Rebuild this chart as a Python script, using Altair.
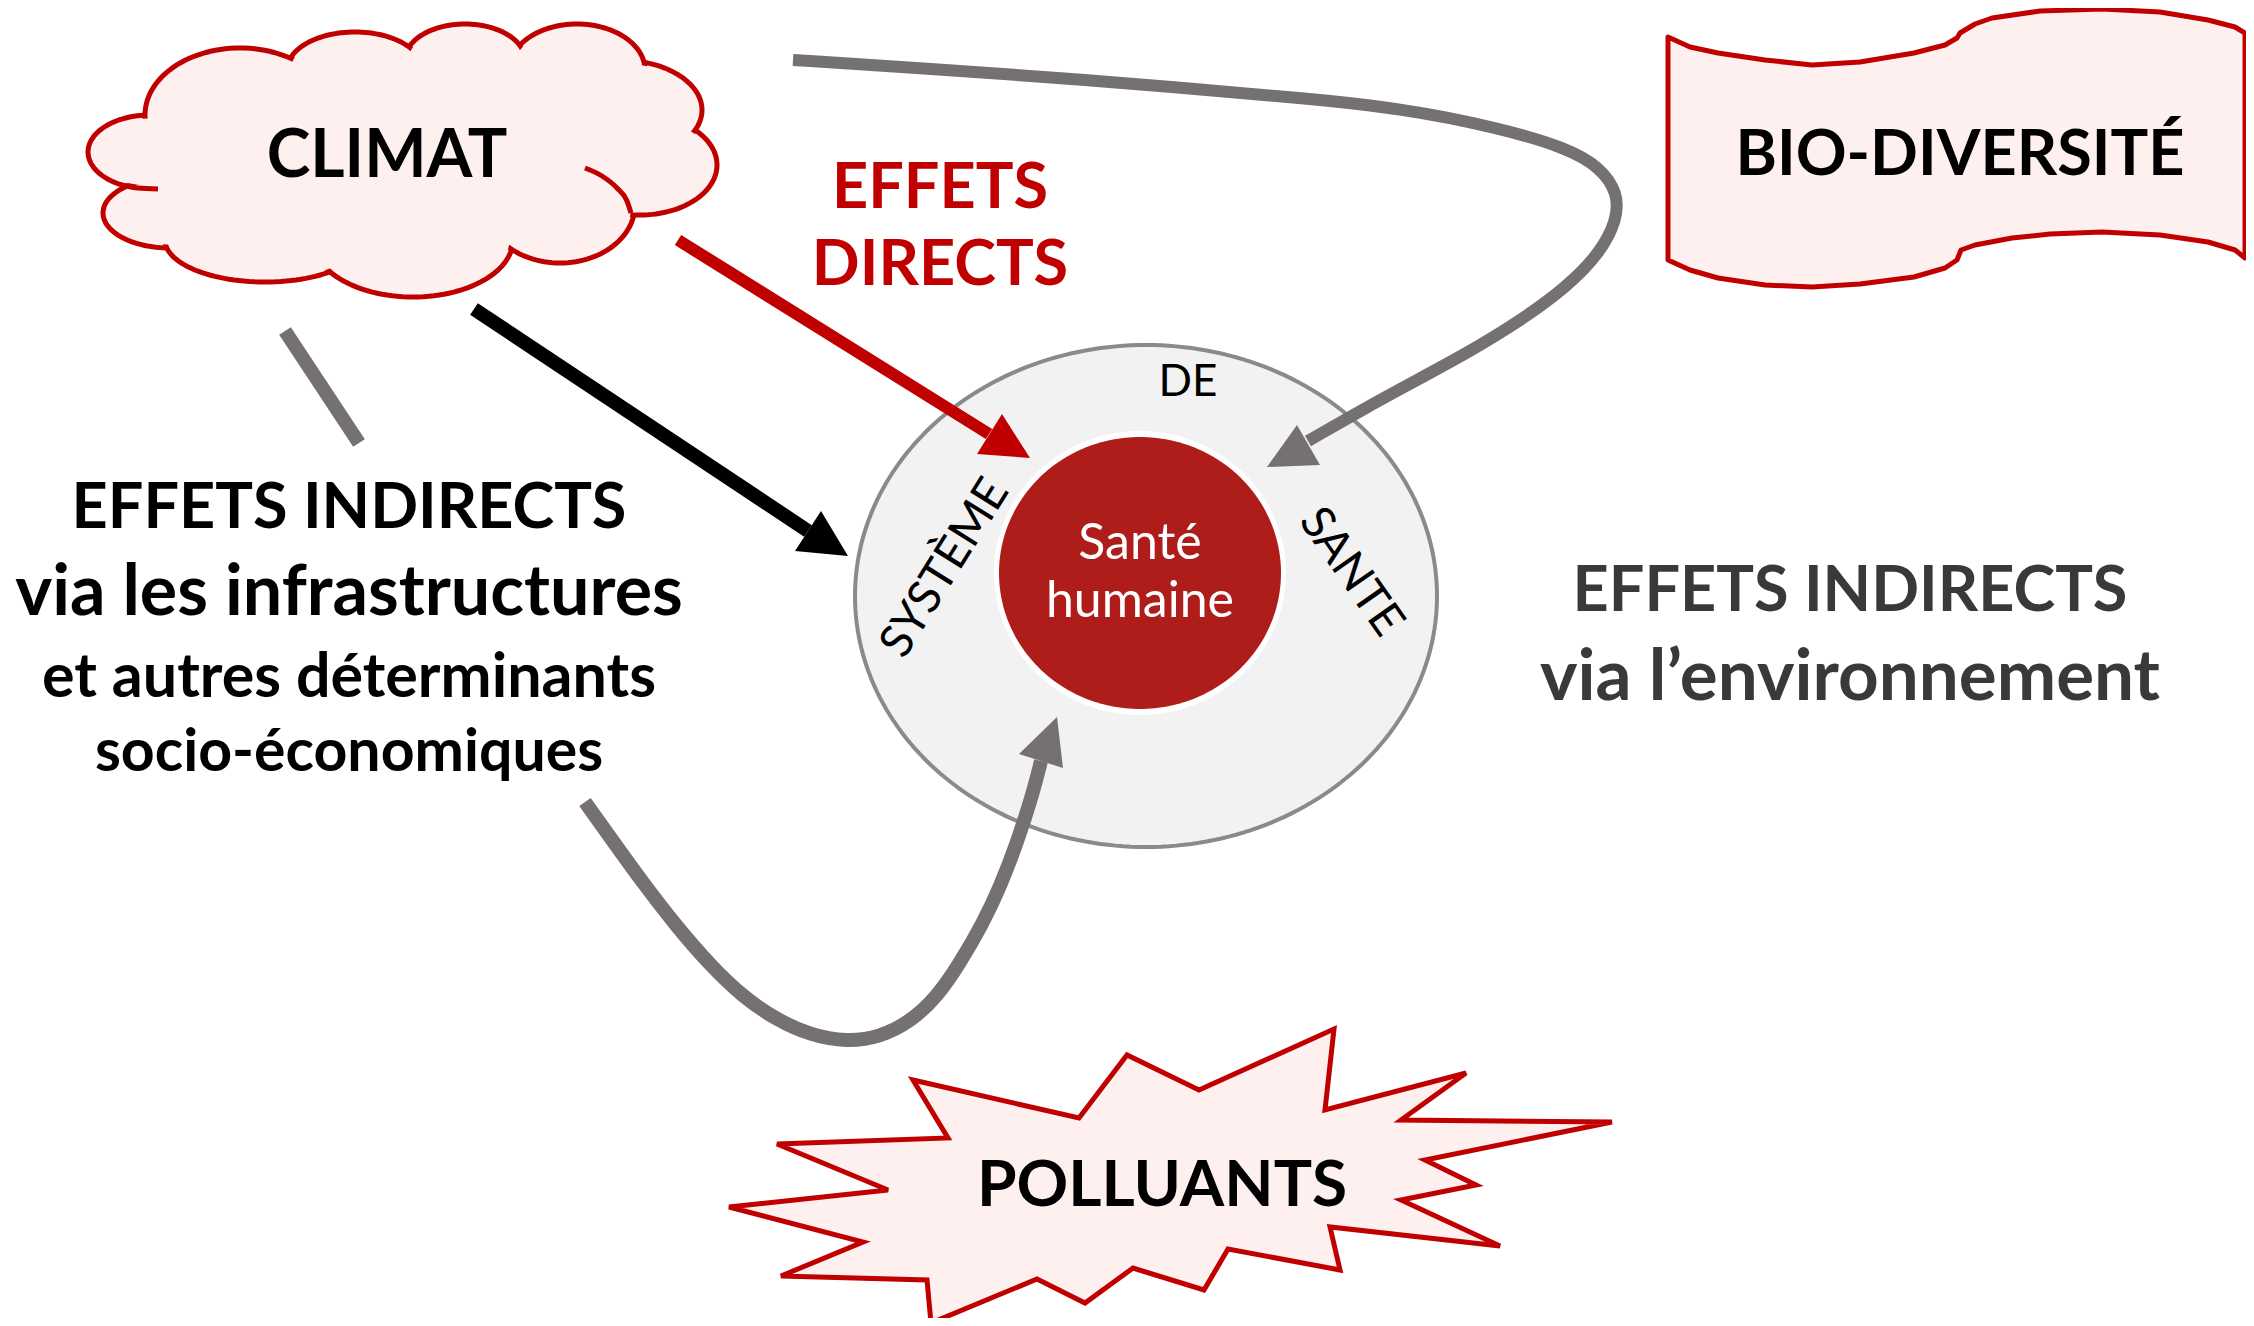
import altair as alt
import pandas as pd
import numpy as np

W, H, M = 2254, 1326, 8

# ---------------- shapes (pixel positions) ----------------
# cloud "CLIMAT" : lobes as ellipses (cx, cy, rx, ry); last one is an inner filler
cloud_cx = [150, 170, 265, 413, 560, 640, 620, 577, 465, 355, 240, 400]
cloud_cy = [152, 213, 240, 240, 205, 165, 110, 70, 60, 70, 115, 160]
cloud_rx = [62, 67, 100, 100, 75, 77, 82, 68, 60, 68, 95, 230]
cloud_ry = [37, 35, 42, 57, 58, 50, 50, 46, 36, 38, 67, 100]
cloud_outlined = [1, 1, 1, 1, 1, 1, 1, 1, 1, 1, 1, 0]

# inner arcs of the cloud (visible stubs)
stub1_x = [585, 602, 617, 627, 631]
stub1_y = [168, 176, 188, 201, 213]
stub2_x = [121, 138, 158]
stub2_y = [185, 188, 189]

# banner "BIO-DIVERSITÉ"
banner_x = [1668, 1690, 1718, 1765, 1812, 1860, 1914, 1945, 1957, 1960, 1975, 1992, 2040, 2102,
            2160, 2208, 2235, 2245, 2245, 2235, 2208, 2160, 2102, 2050, 2012, 1975, 1961, 1957,
            1945, 1914, 1860, 1812, 1765, 1718, 1690, 1668]
banner_y = [37, 47, 53, 60, 65, 62, 53, 45, 38, 33, 24, 18, 11, 9,
            12, 20, 27, 33, 258, 250, 242, 235, 232, 234, 238, 245, 250, 260,
            268, 277, 284, 287, 285, 278, 270, 260]

# star "POLLUANTS"
star_x = [913, 1079, 1127, 1199, 1334, 1325, 1466, 1401, 1612, 1425, 1476, 1401, 1500, 1330,
          1340, 1228, 1204, 1133, 1085, 1037, 931, 927, 781, 863, 729, 888, 777, 948]
star_y = [1080, 1118, 1055, 1090, 1029, 1110, 1073, 1120, 1122, 1160, 1185, 1200, 1246, 1227,
          1270, 1249, 1290, 1268, 1303, 1279, 1323, 1280, 1276, 1242, 1207, 1190, 1144, 1138]

# rings: outer grey ellipse, white border, red core
ring_cx = [1146, 1140, 1140]
ring_cy = [596, 573, 573]
ring_rx = [291, 146, 141]
ring_ry = [251, 142, 136]

# arrows (shaft paths + arrow heads)
grey_top_x = [793, 793, 920, 1047, 1175, 1300, 1400, 1500, 1567, 1600, 1618, 1617, 1600, 1567, 1517,
              1467, 1417, 1367, 1308, 1308]
grey_top_y = [60, 60, 68, 77, 87, 98, 108, 128, 148, 167, 193, 220, 253, 287, 323,
              353, 380, 407, 441, 441]
grey_top_head_x = [1267, 1297, 1320]
grey_top_head_y = [467, 425, 465]

grey_bot_x = [585, 585, 610, 643, 677, 710, 743, 777, 810, 847, 880, 910, 937, 960, 983, 1000, 1017, 1033,
              1041, 1041]
grey_bot_y = [802, 802, 837, 883, 927, 965, 997, 1020, 1035, 1042, 1037, 1022, 997, 963, 923, 887, 843, 793,
              761, 761]
grey_bot_head_x = [1057, 1019, 1063]
grey_bot_head_y = [717, 754, 768]

black_x = [474, 808]
black_y = [309, 531]
black_head_x = [848, 821, 795]
black_head_y = [556, 511, 551]

red_x = [678, 989]
red_y = [240, 434]
red_head_x = [1030, 1002, 977]
red_head_y = [458, 414, 454]

grey_stub_x = [285, 359]
grey_stub_y = [331, 443]

# ---------------- texts ----------------
bold_text = ["CLIMAT", "BIO-DIVERSITÉ", "EFFETS", "DIRECTS", "POLLUANTS",
             "EFFETS INDIRECTS", "via les infrastructures", "et autres déterminants", "socio-économiques",
             "EFFETS INDIRECTS", "via l\u2019environnement"]
bold_x = [387, 1960, 940, 940, 1162, 349, 349, 349, 349, 1850, 1850]
bold_y = [177, 175, 208, 285, 1206, 528, 615, 697, 771, 611, 700]
bold_size = [66, 63, 63, 63, 64, 63, 70, 61, 59, 63, 71]
bold_color = ["#000000", "#000000", "#C00000", "#C00000", "#000000",
              "#000000", "#000000", "#000000", "#000000", "#3B3838", "#3B3838"]

reg_text = ["DE", "Santé", "humaine"]
reg_x = [1188, 1140, 1140]
reg_y = [396, 559, 617]
reg_size = [44, 50, 50]
reg_color = ["#000000", "#FFFFFF", "#FFFFFF"]

rot_text = ["SYSTÈME", "SANTE"]
rot_x = [945, 1351]
rot_y = [568, 572]
rot_angle = [302, 55]
rot_size = [46, 46]

RED = "#C00000"
PINK = "#FFF0F0"
GREY = "#767171"

# ---------------- helpers ----------------
X = alt.X("x:Q", scale=alt.Scale(domain=[M, W - M], nice=False, zero=False), axis=None)
Y = alt.Y("y:Q", scale=alt.Scale(domain=[M, H - M], nice=False, zero=False, reverse=True), axis=None)


def ellipse_df(cx, cy, rx, ry, n=120, shrink=0.0):
    rows = []
    for k, (a, b, c, d) in enumerate(zip(cx, cy, rx, ry)):
        t = np.linspace(0, 2 * np.pi, n, endpoint=False)
        for i, tt in enumerate(t):
            rows.append({"sid": k, "i": i,
                         "x": a + (c - shrink) * np.cos(tt),
                         "y": b + (d - shrink) * np.sin(tt)})
    return pd.DataFrame(rows)


def path_df(xs, ys, sid=0):
    return pd.DataFrame({"x": xs, "y": ys, "i": list(range(len(xs))), "sid": sid})


def polygon(df, fill, stroke, sw, join="miter"):
    return alt.Chart(df).mark_line(
        fill=fill, stroke=stroke, strokeWidth=sw, interpolate="linear-closed",
        strokeJoin=join
    ).encode(x=X, y=Y, order="i:Q", detail="sid:N")


def curve(df, color, sw, interp="linear", cap="butt"):
    return alt.Chart(df).mark_line(
        color=color, strokeWidth=sw, interpolate=interp, strokeCap=cap
    ).encode(x=X, y=Y, order="i:Q", detail="sid:N")


# cloud
idx_out = [k for k, o in enumerate(cloud_outlined) if o]
cloud_stroke = polygon(
    ellipse_df([cloud_cx[k] for k in idx_out], [cloud_cy[k] for k in idx_out],
               [cloud_rx[k] for k in idx_out], [cloud_ry[k] for k in idx_out]),
    PINK, RED, 5)
cloud_fill = polygon(ellipse_df(cloud_cx, cloud_cy, cloud_rx, cloud_ry, shrink=3.5), PINK, PINK, 0)
cloud_stubs = curve(pd.concat([path_df(stub1_x, stub1_y, 0), path_df(stub2_x, stub2_y, 1)]),
                    RED, 5, interp="monotone")

banner = polygon(path_df(banner_x, banner_y), PINK, RED, 5, join="round")
star = polygon(path_df(star_x, star_y), PINK, RED, 5)

outer = polygon(ellipse_df(ring_cx[:1], ring_cy[:1], ring_rx[:1], ring_ry[:1], n=240), "#F2F2F2", "#8A8A8A", 4)
white = polygon(ellipse_df(ring_cx[1:2], ring_cy[1:2], ring_rx[1:2], ring_ry[1:2], n=240), "#FFFFFF", "#FFFFFF", 0)
core = polygon(ellipse_df(ring_cx[2:], ring_cy[2:], ring_rx[2:], ring_ry[2:], n=240), "#AE1D19", "#AE1D19", 0)

grey_top = curve(path_df(grey_top_x, grey_top_y), GREY, 12, interp="basis")
grey_top_head = polygon(path_df(grey_top_head_x, grey_top_head_y), GREY, GREY, 0)
grey_bot = curve(path_df(grey_bot_x, grey_bot_y), GREY, 14, interp="basis")
grey_bot_head = polygon(path_df(grey_bot_head_x, grey_bot_head_y), GREY, GREY, 0)
black = curve(path_df(black_x, black_y), "#000000", 14)
black_head = polygon(path_df(black_head_x, black_head_y), "#000000", "#000000", 0)
red = curve(path_df(red_x, red_y), RED, 12)
red_head = polygon(path_df(red_head_x, red_head_y), RED, RED, 0)
stub = curve(path_df(grey_stub_x, grey_stub_y), GREY, 14)

bold_df = pd.DataFrame({"x": bold_x, "y": bold_y, "t": bold_text, "s": bold_size, "c": bold_color})
bold = alt.Chart(bold_df).mark_text(font="Lato", fontWeight="bold", align="center", baseline="alphabetic").encode(
    x=X, y=Y, text="t:N",
    size=alt.Size("s:Q", scale=None), color=alt.Color("c:N", scale=None))

reg_df = pd.DataFrame({"x": reg_x, "y": reg_y, "t": reg_text, "s": reg_size, "c": reg_color})
reg = alt.Chart(reg_df).mark_text(font="Lato", align="center", baseline="alphabetic").encode(
    x=X, y=Y, text="t:N",
    size=alt.Size("s:Q", scale=None), color=alt.Color("c:N", scale=None))

rot_df = pd.DataFrame({"x": rot_x, "y": rot_y, "t": rot_text, "a": rot_angle, "s": rot_size})
rot = alt.Chart(rot_df).mark_text(font="Lato", align="center", baseline="middle", color="#000000").encode(
    x=X, y=Y, text="t:N", angle=alt.Angle("a:Q", scale=None),
    size=alt.Size("s:Q", scale=None))

chart = alt.layer(
    cloud_stroke, cloud_fill, cloud_stubs, banner, star, outer, white, core,
    grey_top, grey_top_head, grey_bot, grey_bot_head, black, black_head, red, red_head, stub,
    bold, reg, rot
).properties(
    width=W - 2 * M, height=H - 2 * M, padding=0,
    autosize=alt.AutoSizeParams(type="none"), background="#FFFFFF"
).configure_view(stroke=None)

chart.save("out.html", embed_options={"renderer": "svg", "actions": False})
